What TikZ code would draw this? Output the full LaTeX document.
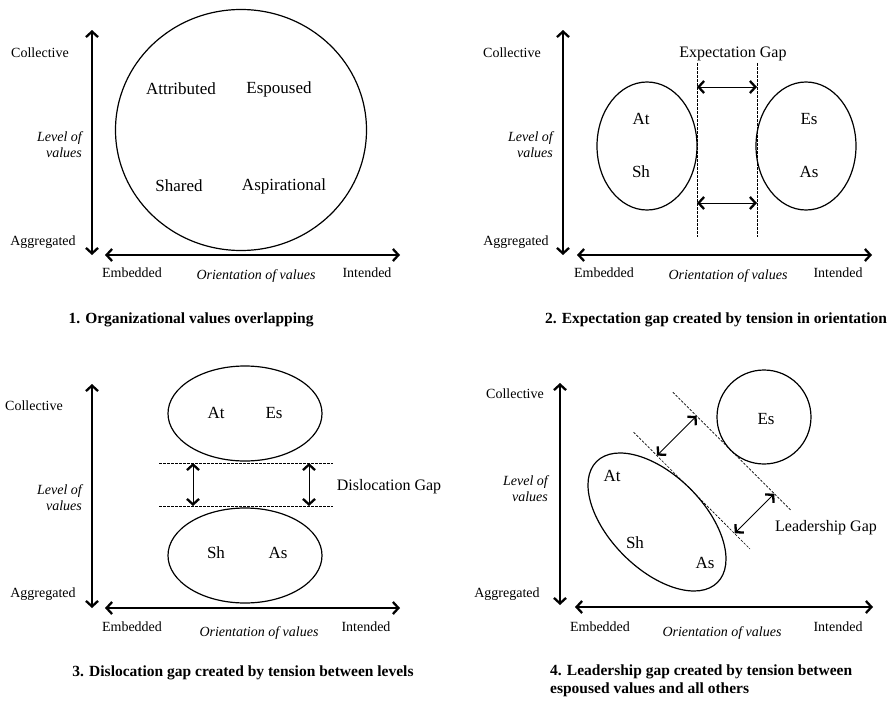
\documentclass[tikz,border=0pt]{standalone}
\usepackage{fontspec}
\setmainfont{Liberation Serif}
\usetikzlibrary{arrows.meta,shapes.geometric}

\begin{document}
\begin{tikzpicture}[x=1pt,y=-1pt,
  >={Straight Barb[length=5.5pt,width=12pt,line width=2.3pt]},
  axis/.style={<->,line width=1.5pt},
  gap/.style={<->,line width=0.9pt},
  guide/.style={line width=0.6pt,dash pattern=on 2.5pt off 1.5pt},
  blob/.style={ellipse,draw,line width=1.2pt,inner sep=0pt},
  axlbl/.style={font=\fontsize{14}{16}\selectfont},
  axname/.style={font=\fontsize{14}{16}\selectfont\itshape},
  val/.style={font=\fontsize{17}{19}\selectfont},
  gaplbl/.style={font=\fontsize{16}{18}\selectfont},
  figcap/.style={font=\fontsize{15.5}{18}\selectfont\bfseries}]

  \useasboundingbox (0,0) rectangle (895,704);

  % 1. overlapping
  \coordinate (v1t) at (92,30);
  \coordinate (v1b) at (92,255);
  \coordinate (h1l) at (105,255);
  \coordinate (h1r) at (400,255);
  \draw [axis] (v1t) -- (v1b);
  \draw [axis] (h1l) -- (h1r);

  \node (col1) at (40,53) [axlbl] {Collective};
  \node (lev1) at (82,145) [axname,anchor=east,align=right,inner sep=0pt] {Level of\\values};
  \node (agg1) at (43,242) [axlbl] {Aggregated};
  \node (emb1) at (132,273) [axlbl] {Embedded};
  \node (ori1) at (256,276) [axname] {Orientation of values};
  \node (int1) at (367,273) [axlbl] {Intended};

  \node (ovl) at (241,130) [blob,minimum width=251,minimum height=241] {};
  \node (att) at (181,89) [val] {Attributed};
  \node (esp) at (279,89) [val] {Espoused};
  \node (sha) at (179,186) [val] {Shared};
  \node (asp) at (284,186) [val] {Aspirational};

  \node (cap1) at (191,320) [figcap] {1. Organizational values overlapping};

  % 2. expectation gap
  \coordinate (v2t) at (563,30);
  \coordinate (v2b) at (563,255);
  \coordinate (h2l) at (577,255);
  \coordinate (h2r) at (872,255);
  \draw [axis] (v2t) -- (v2b);
  \draw [axis] (h2l) -- (h2r);

  \node (col2) at (512,53) [axlbl] {Collective};
  \node (lev2) at (553,145) [axname,anchor=east,align=right,inner sep=0pt] {Level of\\values};
  \node (agg2) at (516,242) [axlbl] {Aggregated};
  \node (emb2) at (604,273) [axlbl] {Embedded};
  \node (ori2) at (728,276) [axname] {Orientation of values};
  \node (int2) at (838,273) [axlbl] {Intended};

  \node (emb) at (647,146) [blob,minimum width=100,minimum height=128] {};
  \node (int) at (806,146) [blob,minimum width=100,minimum height=128] {};
  \node (at2) at (641,119) [val] {At};
  \node (sh2) at (641,172) [val] {Sh};
  \node (es2) at (809,119) [val] {Es};
  \node (as2) at (809,172) [val] {As};

  \coordinate (d2at) at (697,63);
  \coordinate (d2ab) at (697,237);
  \coordinate (d2bt) at (757,63);
  \coordinate (d2bb) at (757,237);
  \draw [guide] (d2at) -- (d2ab);
  \draw [guide] (d2bt) -- (d2bb);

  \coordinate (g2a) at (697,87);
  \coordinate (g2b) at (757,87);
  \coordinate (g2c) at (697,203);
  \coordinate (g2d) at (757,203);
  \draw [gap] (g2a) -- (g2b);
  \draw [gap] (g2c) -- (g2d);

  \node (exp) at (733,54) [gaplbl] {Expectation Gap};

  \node (cap2) at (716,320) [figcap] {2. Expectation gap created by tension in orientation};

  % 3. dislocation gap
  \coordinate (v3t) at (92,384);
  \coordinate (v3b) at (92,608);
  \coordinate (h3l) at (105,608);
  \coordinate (h3r) at (400,608);
  \draw [axis] (v3t) -- (v3b);
  \draw [axis] (h3l) -- (h3r);

  \node (col3) at (34,406) [axlbl] {Collective};
  \node (lev3) at (82,498) [axname,anchor=east,align=right,inner sep=0pt] {Level of\\values};
  \node (agg3) at (43,594) [axlbl] {Aggregated};
  \node (emb3) at (132,627) [axlbl] {Embedded};
  \node (ori3) at (259,633) [axname] {Orientation of values};
  \node (int3) at (366,627) [axlbl] {Intended};

  \node (col) at (245,413.5) [blob,minimum width=154,minimum height=95] {};
  \node (agg) at (245,555.5) [blob,minimum width=154,minimum height=95] {};
  \node (at3) at (216,413) [val] {At};
  \node (es3) at (274,413) [val] {Es};
  \node (sh3) at (216,553) [val] {Sh};
  \node (as3) at (278,553) [val] {As};

  \coordinate (d3al) at (159,463);
  \coordinate (d3ar) at (333,463);
  \coordinate (d3bl) at (159,506);
  \coordinate (d3br) at (333,506);
  \draw [guide] (d3al) -- (d3ar);
  \draw [guide] (d3bl) -- (d3br);

  \coordinate (g3a) at (193,463);
  \coordinate (g3b) at (193,506);
  \coordinate (g3c) at (309,463);
  \coordinate (g3d) at (309,506);
  \draw [gap] (g3a) -- (g3b);
  \draw [gap] (g3c) -- (g3d);

  \node (dis) at (389,487) [gaplbl] {Dislocation Gap};

  \node (cap3) at (243,673) [figcap] {3. Dislocation gap created by tension between levels};

  % 4. leadership gap
  \coordinate (v4t) at (560,383);
  \coordinate (v4b) at (560,605);
  \coordinate (h4l) at (575,607);
  \coordinate (h4r) at (873,607);
  \draw [axis] (v4t) -- (v4b);
  \draw [axis] (h4l) -- (h4r);

  \node (col4) at (515,394) [axlbl] {Collective};
  \node (lev4) at (548,489) [axname,anchor=east,align=right,inner sep=0pt] {Level of\\values};
  \node (agg4) at (507,594) [axlbl] {Aggregated};
  \node (emb4) at (600,627) [axlbl] {Embedded};
  \node (ori4) at (722,633) [axname] {Orientation of values};
  \node (int4) at (838,627) [axlbl] {Intended};

  \node (oth) at (657,522) [blob,rotate=-45,minimum width=171,minimum height=94] {};
  \node (lea) at (764,417) [blob,circle,minimum size=94] {};
  \node (at4) at (612,476) [val] {At};
  \node (sh4) at (635,543) [val] {Sh};
  \node (as4) at (705,563) [val] {As};
  \node (es4) at (766,419) [val] {Es};

  \coordinate (d4as) at (633.6,432.2);
  \coordinate (d4ae) at (750,549);
  \coordinate (d4bs) at (672.8,392.2);
  \coordinate (d4be) at (790.9,510.3);
  \draw [guide] (d4as) -- (d4ae);
  \draw [guide] (d4bs) -- (d4be);

  \coordinate (g4a) at (657,455.6);
  \coordinate (g4b) at (696.6,416);
  \coordinate (g4c) at (734.7,533.3);
  \coordinate (g4d) at (774.3,493.7);
  \draw [gap] (g4a) -- (g4b);
  \draw [gap] (g4c) -- (g4d);

  \node (ldg) at (826,528) [gaplbl] {Leadership Gap};

  \node (cap4) at (550,681) [figcap,anchor=west,align=left,inner sep=0pt] {4. Leadership gap created by tension between\\espoused values and all others};

\end{tikzpicture}
\end{document}
